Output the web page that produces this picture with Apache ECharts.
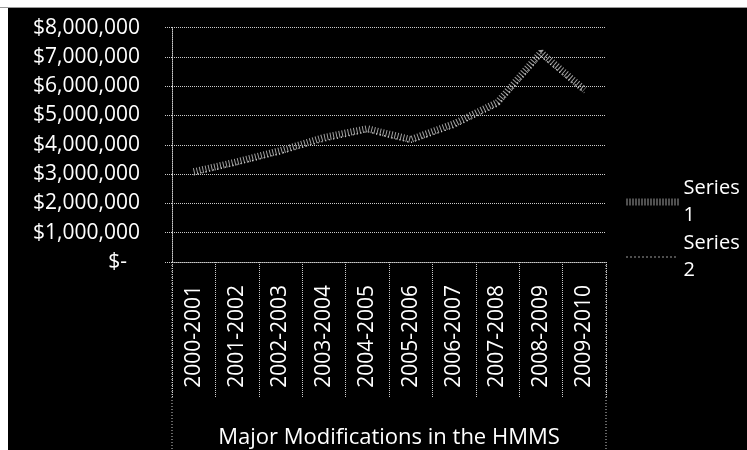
<!DOCTYPE html>
<html><head><meta charset="utf-8">
<script src="https://cdn.jsdelivr.net/npm/echarts@6/dist/echarts.min.js"></script>
<style>
html,body{margin:0;padding:0;background:#fff;width:747px;height:450px;overflow:hidden;}
#c{position:absolute;left:8px;top:8px;width:739px;height:442px;}
#t{position:absolute;left:0;top:7px;width:747px;height:1px;background:#999;}
</style></head>
<body><div id="t"></div><div id="c"></div>
<script>
const categories = ['2000-2001','2001-2002','2002-2003','2003-2004','2004-2005','2005-2006','2006-2007','2007-2008','2008-2009','2009-2010'];
const series1 = [3080000, 3420000, 3800000, 4250000, 4550000, 4180000, 4720000, 5450000, 7150000, 5880000];
const series2 = [2980000, 3330000, 3700000, 4130000, 4450000, 4080000, 4600000, 5330000, 7020000, 5780000];
const seriesNames = ['Series 1', 'Series 2'];
const yMin = 0, yMax = 8000000, yStep = 1000000;
const axisTitle = 'Major Modifications in the HMMS';

const FONT = 'Open Sans';
const FS = 21;
const S1_LINE = {color: '#a0a0a0', width: 7, type: [1, 2]};
const S2_LINE = {color: '#d0d0d0', width: 1.5, type: [1, 3]};
const chart = echarts.init(document.getElementById('c'));
function money(v){
  if (v === 0) return '{z|$-}';
  return '$' + v.toString().replace(/\B(?=(\d{3})+(?!\d))/g, ',');
}
chart.setOption({
  backgroundColor: '#000',
  animation: false,
  grid: {left: 164, right: 141, top: 19.6, bottom: 188, containLabel: false, outerBoundsMode: 'none'},
  legend: {
    orient: 'vertical', left: 615, top: 167, padding: 0,
    itemWidth: 52, itemHeight: 14, itemGap: 1,
    data: [
      {name: seriesNames[0], lineStyle: S1_LINE},
      {name: seriesNames[1], lineStyle: S2_LINE}
    ],
    formatter: n => n.replace(' ', '\n'),
    itemStyle: {opacity: 0},
    textStyle: {color: '#fff', fontFamily: FONT, fontSize: 20, lineHeight: 27}
  },
  xAxis: {
    type: 'category', data: categories, boundaryGap: true,
    name: axisTitle, nameLocation: 'middle', nameGap: 165,
    nameTextStyle: {color: '#fff', fontFamily: FONT, fontSize: 22},
    axisLine: {show: true, lineStyle: {color: '#ccc', type: 'dotted', width: 1}},
    axisTick: {show: true, interval: 0, length: 136, lineStyle: {color: '#ccc', type: 'dotted'}},
    axisLabel: {color: '#fff', rotate: 90, fontFamily: FONT, fontSize: FS, margin: 23, interval: 0},
    splitLine: {show: false}
  },
  yAxis: {
    type: 'value', min: yMin, max: yMax, interval: yStep,
    axisLine: {show: true, lineStyle: {color: '#ccc', type: 'dotted'}},
    axisTick: {show: true, length: 7, lineStyle: {color: '#ccc', type: 'dotted'}},
    axisLabel: {color: '#fff', fontFamily: FONT, fontSize: FS, margin: 32, formatter: money,
      rich: {z: {color: '#fff', fontFamily: FONT, fontSize: FS, padding: [0, 13, 0, 0]}}},
    splitLine: {show: true, lineStyle: {color: '#ccc', type: 'dotted', width: 1}}
  },
  graphic: [
    {type: 'line', shape: {x1: 164, y1: 254, x2: 164, y2: 442}, style: {stroke: '#ccc', lineDash: [1, 2], lineWidth: 1}},
    {type: 'line', shape: {x1: 598, y1: 254, x2: 598, y2: 442}, style: {stroke: '#ccc', lineDash: [1, 2], lineWidth: 1}}
  ],
  series: [
    {name: seriesNames[0], type: 'line', data: series1, symbol: 'none',
     lineStyle: S1_LINE, itemStyle: {color: S1_LINE.color}},
    {name: seriesNames[1], type: 'line', data: series2, symbol: 'none',
     lineStyle: S2_LINE, itemStyle: {color: S2_LINE.color}}
  ]
});
</script></body></html>
